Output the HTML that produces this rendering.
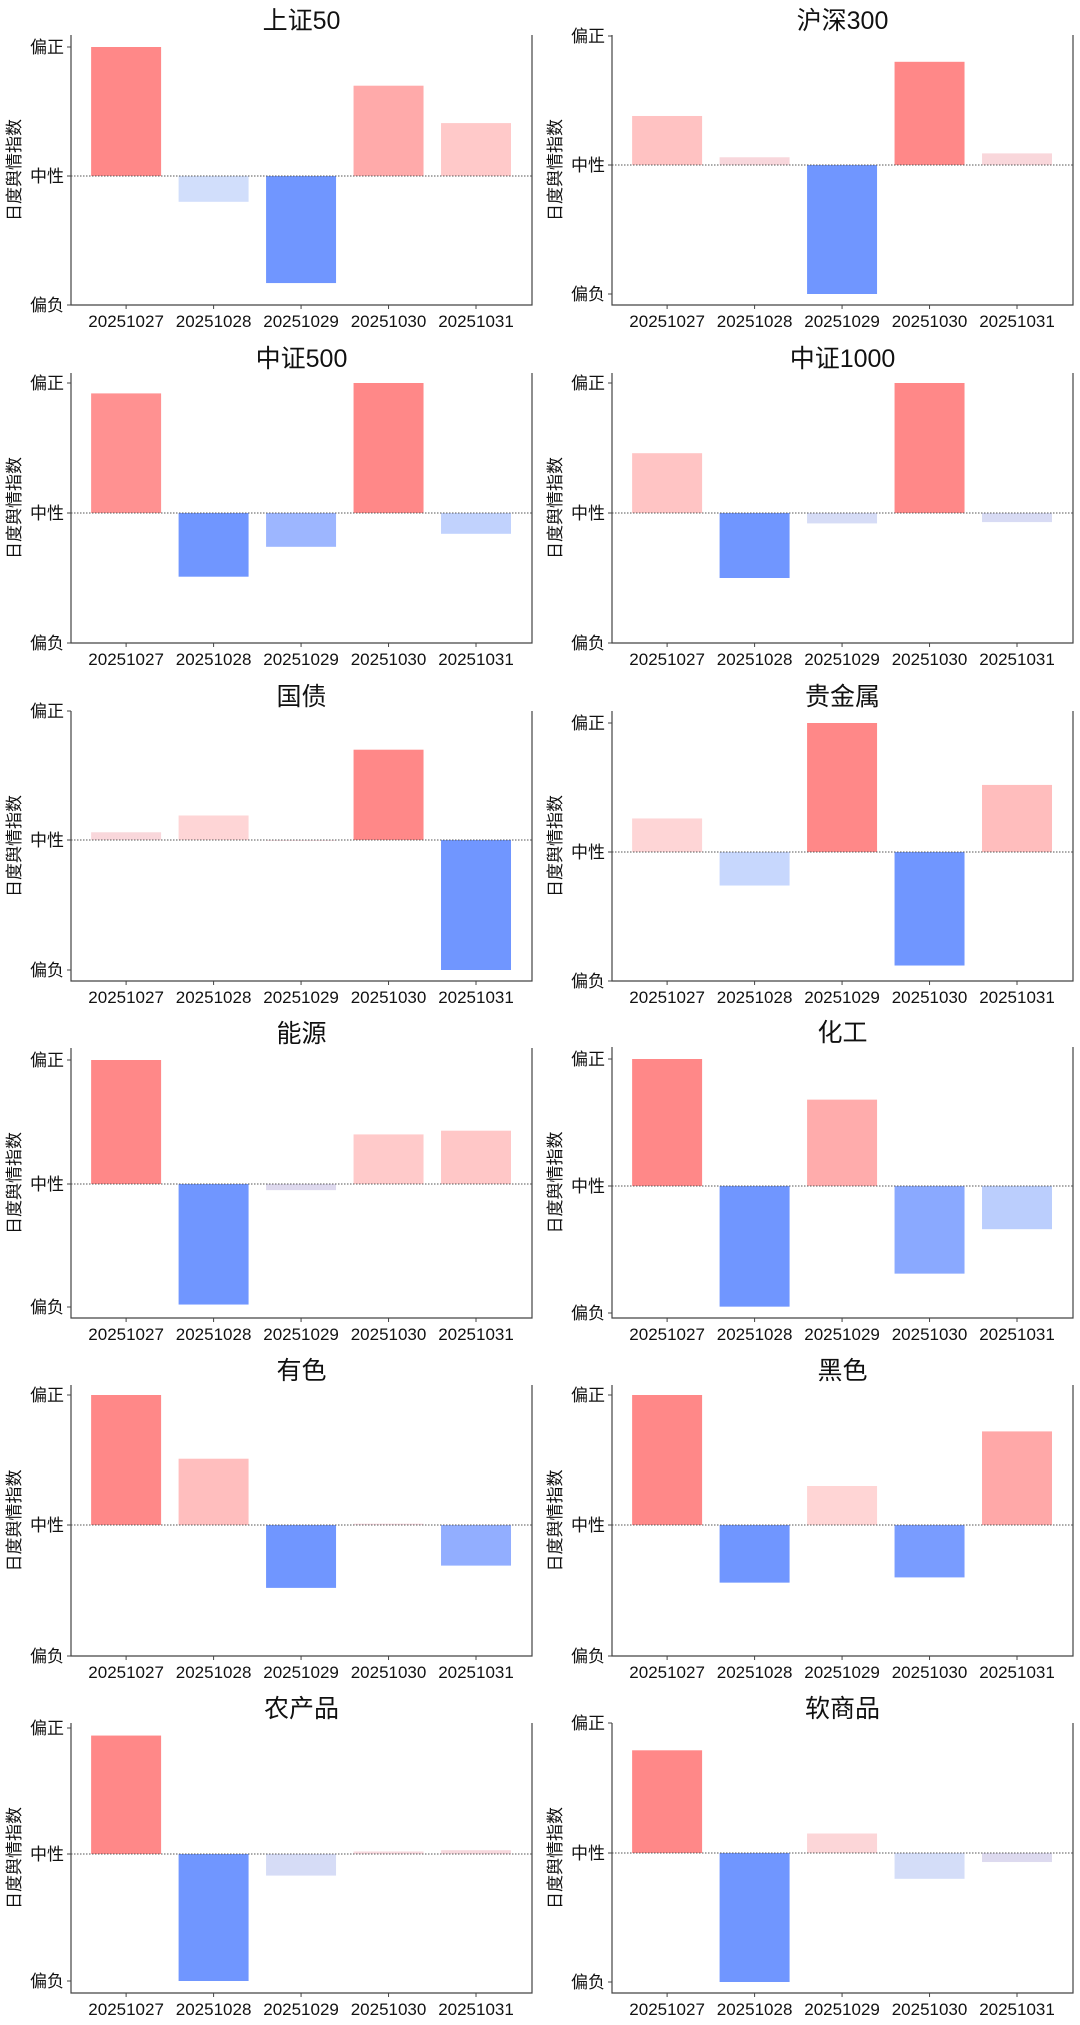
<!DOCTYPE html>
<html><head><meta charset="utf-8">
<style>
html,body{margin:0;padding:0;background:#fff;}
svg{display:block;font-family:"Liberation Sans","Noto Sans CJK SC",sans-serif;}
</style></head>
<body>
<svg id="chart" width="1080" height="2025" viewBox="0 0 1080 2025" xmlns="http://www.w3.org/2000/svg"></svg>
<script>
const categories = ["20251027","20251028","20251029","20251030","20251031"];
const titles = ["上证50","沪深300","中证500","中证1000","国债","贵金属","能源","化工","有色","黑色","农产品","软商品"];
const vSZ50   = [1.0,-0.2,-0.83,0.7,0.41];
const vHS300  = [0.38,0.06,-1.0,0.8,0.09];
const vZZ500  = [0.92,-0.49,-0.26,1.0,-0.16];
const vZZ1000 = [0.46,-0.5,-0.08,1.0,-0.07];
const vGZ     = [0.06,0.19,0.0,0.70,-1.0];
const vGJS    = [0.26,-0.26,1.0,-0.88,0.52];
const vNY     = [1.0,-0.98,-0.05,0.40,0.43];
const vHG     = [1.0,-0.95,0.68,-0.69,-0.34];
const vYS     = [1.0,0.51,-0.48,0.01,-0.31];
const vHS     = [1.0,-0.44,0.30,-0.40,0.72];
const vNCP    = [0.94,-1.0,-0.17,0.02,0.03];
const vRSP    = [0.79,-1.0,0.15,-0.2,-0.07];
const seriesList = [vSZ50,vHS300,vZZ500,vZZ1000,vGZ,vGJS,vNY,vHG,vYS,vHS,vNCP,vRSP];
const tickLabels = ["偏负","中性","偏正"];
const tickValues = [-1,0,1];
const yLabel = "日度舆情指数";

// layout per panel: [top, y(+1), y(0), y(-1), bottom]
const layouts = [
 [35,47,176,305,305],[35,36,165,294,305],
 [373,383,513,643,643],[373,383,513,643,643],
 [711,711,840,970,981],[711,723,852,981,981],
 [1048,1060,1184,1307,1318],[1047,1059,1186,1313,1318],
 [1385,1395,1525,1656,1656],[1385,1395,1525,1656,1656],
 [1723,1728,1854,1981,1993],[1723,1723,1853,1982,1993]
];
const NS="http://www.w3.org/2000/svg";
const svg=document.getElementById('chart');
function mk(tag,attrs,parent){const e=document.createElementNS(NS,tag);for(const k in attrs)e.setAttribute(k,attrs[k]);(parent||svg).appendChild(e);return e;}
const posStops=[[0,[246,216,222]],[0.3,[255,213,213]],[0.7,[255,170,170]],[1,[255,136,136]]];
const negStops=[[0,[226,216,234]],[0.25,[208,222,252]],[0.5,[160,184,255]],[1,[112,150,255]]];
function interp(stops,t){
  for(let i=1;i<stops.length;i++){
    if(t<=stops[i][0]){
      const a=stops[i-1],b=stops[i],f=(t-a[0])/(b[0]-a[0]);
      return a[1].map((c,j)=>Math.round(c+(b[1][j]-c)*f));
    }
  }
  return stops[stops.length-1][1];
}
function colorFor(v,maxPos,maxNeg){
  let c;
  if(v>=0){c=interp(posStops,maxPos>0?Math.min(1,v/maxPos):0);}
  else{c=interp(negStops,Math.min(1,-v/maxNeg));}
  return `rgb(${c[0]},${c[1]},${c[2]})`;
}
titles.forEach((title,i)=>{
  const col=i%2;
  const L=layouts[i];
  const x0=col===0?71:612, x1=col===0?532:1073;
  const top=L[0],bottom=L[4];
  const yScale=v=> v>=0 ? L[2]-(L[2]-L[1])*v : L[2]+(L[3]-L[2])*(-v);
  const step=(x1-x0)/5.27;
  const xScale=k=> x0+step*(0.63+k);
  const g=mk('g',{});
  
  
  const t=mk('text',{x:(x0+x1)/2,y:top-6,'text-anchor':'middle','font-size':25,fill:'#111'},g);
  t.textContent=title;
  
  
  const vals=seriesList[i];
  const maxPos=Math.max(0,...vals), maxNeg=Math.max(0.0001,...vals.map(v=>-v));
  vals.forEach((v,k)=>{
    const cx=xScale(k), w=step*0.8;
    const y1=yScale(v), y0=yScale(0);
    const r=mk('rect',{x:cx-w/2,y:Math.min(y0,y1),width:w,height:Math.max(Math.abs(y1-y0),0.8),fill:colorFor(v,maxPos,maxNeg)},g);
    
    
  });
  const zl=mk('line',{x1:x0,x2:x1,y1:yScale(0),y2:yScale(0),stroke:'#555','stroke-width':1,'stroke-dasharray':'1.5,1.5'},g);
  
  
  const ax=mk('path',{d:`M${x0},${top}V${bottom}H${x1}V${top}`,fill:'none',stroke:'#444','stroke-width':1.2},g);
  
  
  tickValues.forEach((tv,j)=>{
    const y=yScale(tv);
    mk('line',{x1:x0-4,x2:x0,y1:y,y2:y,stroke:'#444'},g);
    const tl=mk('text',{x:x0-7,y:y+6,'text-anchor':'end','font-size':17,fill:'#111'},g);
    tl.textContent=tickLabels[j];
    
    
  });
  categories.forEach((c,k)=>{
    const cx=xScale(k);
    mk('line',{x1:cx,x2:cx,y1:bottom,y2:bottom+4,stroke:'#444'},g);
    const xl=mk('text',{x:cx,y:bottom+22,'text-anchor':'middle','font-size':17,fill:'#111'},g);
    xl.textContent=c;
    
    
  });
  const yc=(top+bottom)/2;
  const yt=mk('text',{x:0,y:0,'text-anchor':'middle','font-size':17,fill:'#111',transform:`translate(${x0-51},${yc}) rotate(-90)`},g);
  yt.textContent=yLabel;
  
  
});
</script>
</body></html>
